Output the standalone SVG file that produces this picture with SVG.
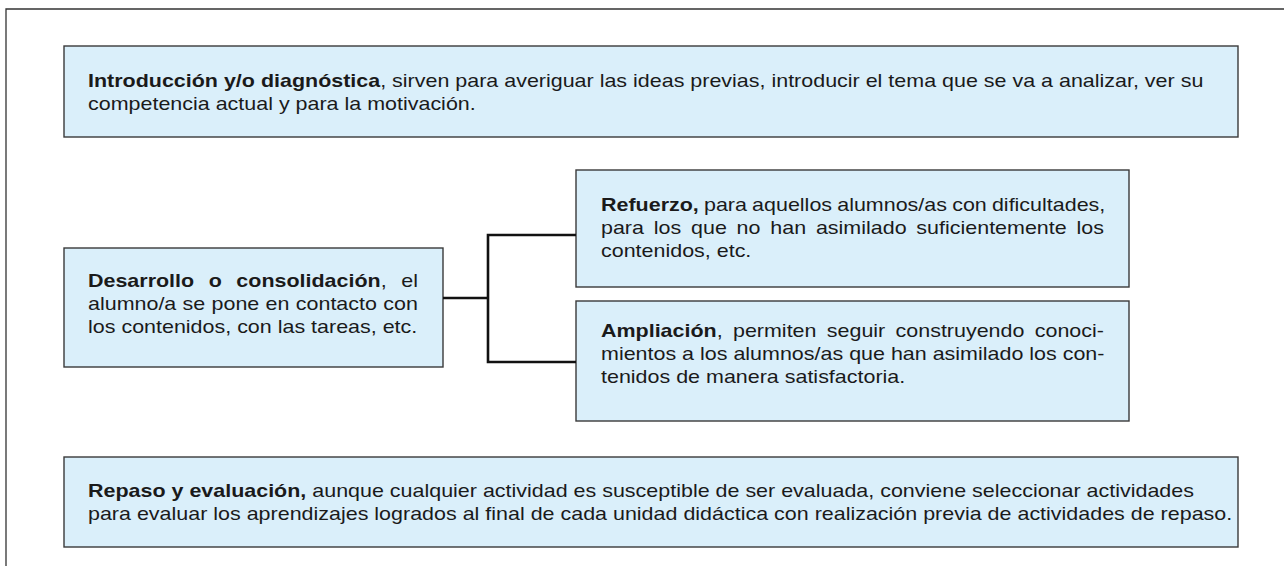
<svg xmlns="http://www.w3.org/2000/svg" width="1284" height="566" viewBox="0 0 1284 566">
<style>
.box{fill:#daeffa;stroke:#3a3a3a;stroke-width:1.4}
.frame{fill:none;stroke:#333;stroke-width:1.3}
.conn{fill:none;stroke:#111;stroke-width:2.6}
text{font-family:"Liberation Sans",Arial,Helvetica,sans-serif;font-size:19px;fill:#1a1a1a}
.b{font-weight:bold}
</style>
<path class="frame" d="M6,566 V9 H1284"/>
<g id="introduccion">
<rect class="box" x="64" y="46" width="1174" height="91"/>
<g transform="matrix(1.13 0 0 1 88 0)">
<text x="0" y="87"><tspan class="b">Introducción y/o diagnóstica</tspan>, sirven para averiguar las ideas previas, introducir el tema que se va a analizar, ver su</text>
<text x="0" y="110">competencia actual y para la motivación.</text>
</g>
</g>
<g id="desarrollo">
<rect class="box" x="64" y="248" width="379" height="119"/>
<g transform="matrix(1.13 0 0 1 88 0)">
<text x="0" y="287" word-spacing="7.6"><tspan class="b">Desarrollo o consolidación</tspan>, el</text>
<text x="0" y="310" word-spacing="0.3">alumno/a se pone en contacto con</text>
<text x="0" y="333">los contenidos, con las tareas, etc.</text>
</g>
</g>
<g id="refuerzo">
<rect class="box" x="576" y="170" width="553" height="117"/>
<g transform="matrix(1.13 0 0 1 601 0)">
<text x="0" y="211" word-spacing="-0.7"><tspan class="b">Refuerzo,</tspan> para aquellos alumnos/as con dificultades,</text>
<text x="0" y="234" word-spacing="3.4">para los que no han asimilado suficientemente los</text>
<text x="0" y="257">contenidos, etc.</text>
</g>
</g>
<g id="ampliacion">
<rect class="box" x="576" y="301" width="553" height="120"/>
<g transform="matrix(1.13 0 0 1 601 0)">
<text x="0" y="337" word-spacing="3.85"><tspan class="b">Ampliación</tspan>, permiten seguir construyendo conoci-</text>
<text x="0" y="360">mientos a los alumnos/as que han asimilado los con-</text>
<text x="0" y="383">tenidos de manera satisfactoria.</text>
</g>
</g>
<g id="repaso">
<rect class="box" x="64" y="457" width="1174" height="90"/>
<g transform="matrix(1.13 0 0 1 88 0)">
<text x="0" y="497"><tspan class="b">Repaso y evaluación,</tspan> aunque cualquier actividad es susceptible de ser evaluada, conviene seleccionar actividades</text>
<text x="0" y="520">para evaluar los aprendizajes logrados al final de cada unidad didáctica con realización previa de actividades de repaso.</text>
</g>
</g>
<g id="connectors">
<path class="conn" d="M443,298 H488"/>
<path class="conn" d="M576,235 H488 V362 H576"/>
</g>
</svg>
